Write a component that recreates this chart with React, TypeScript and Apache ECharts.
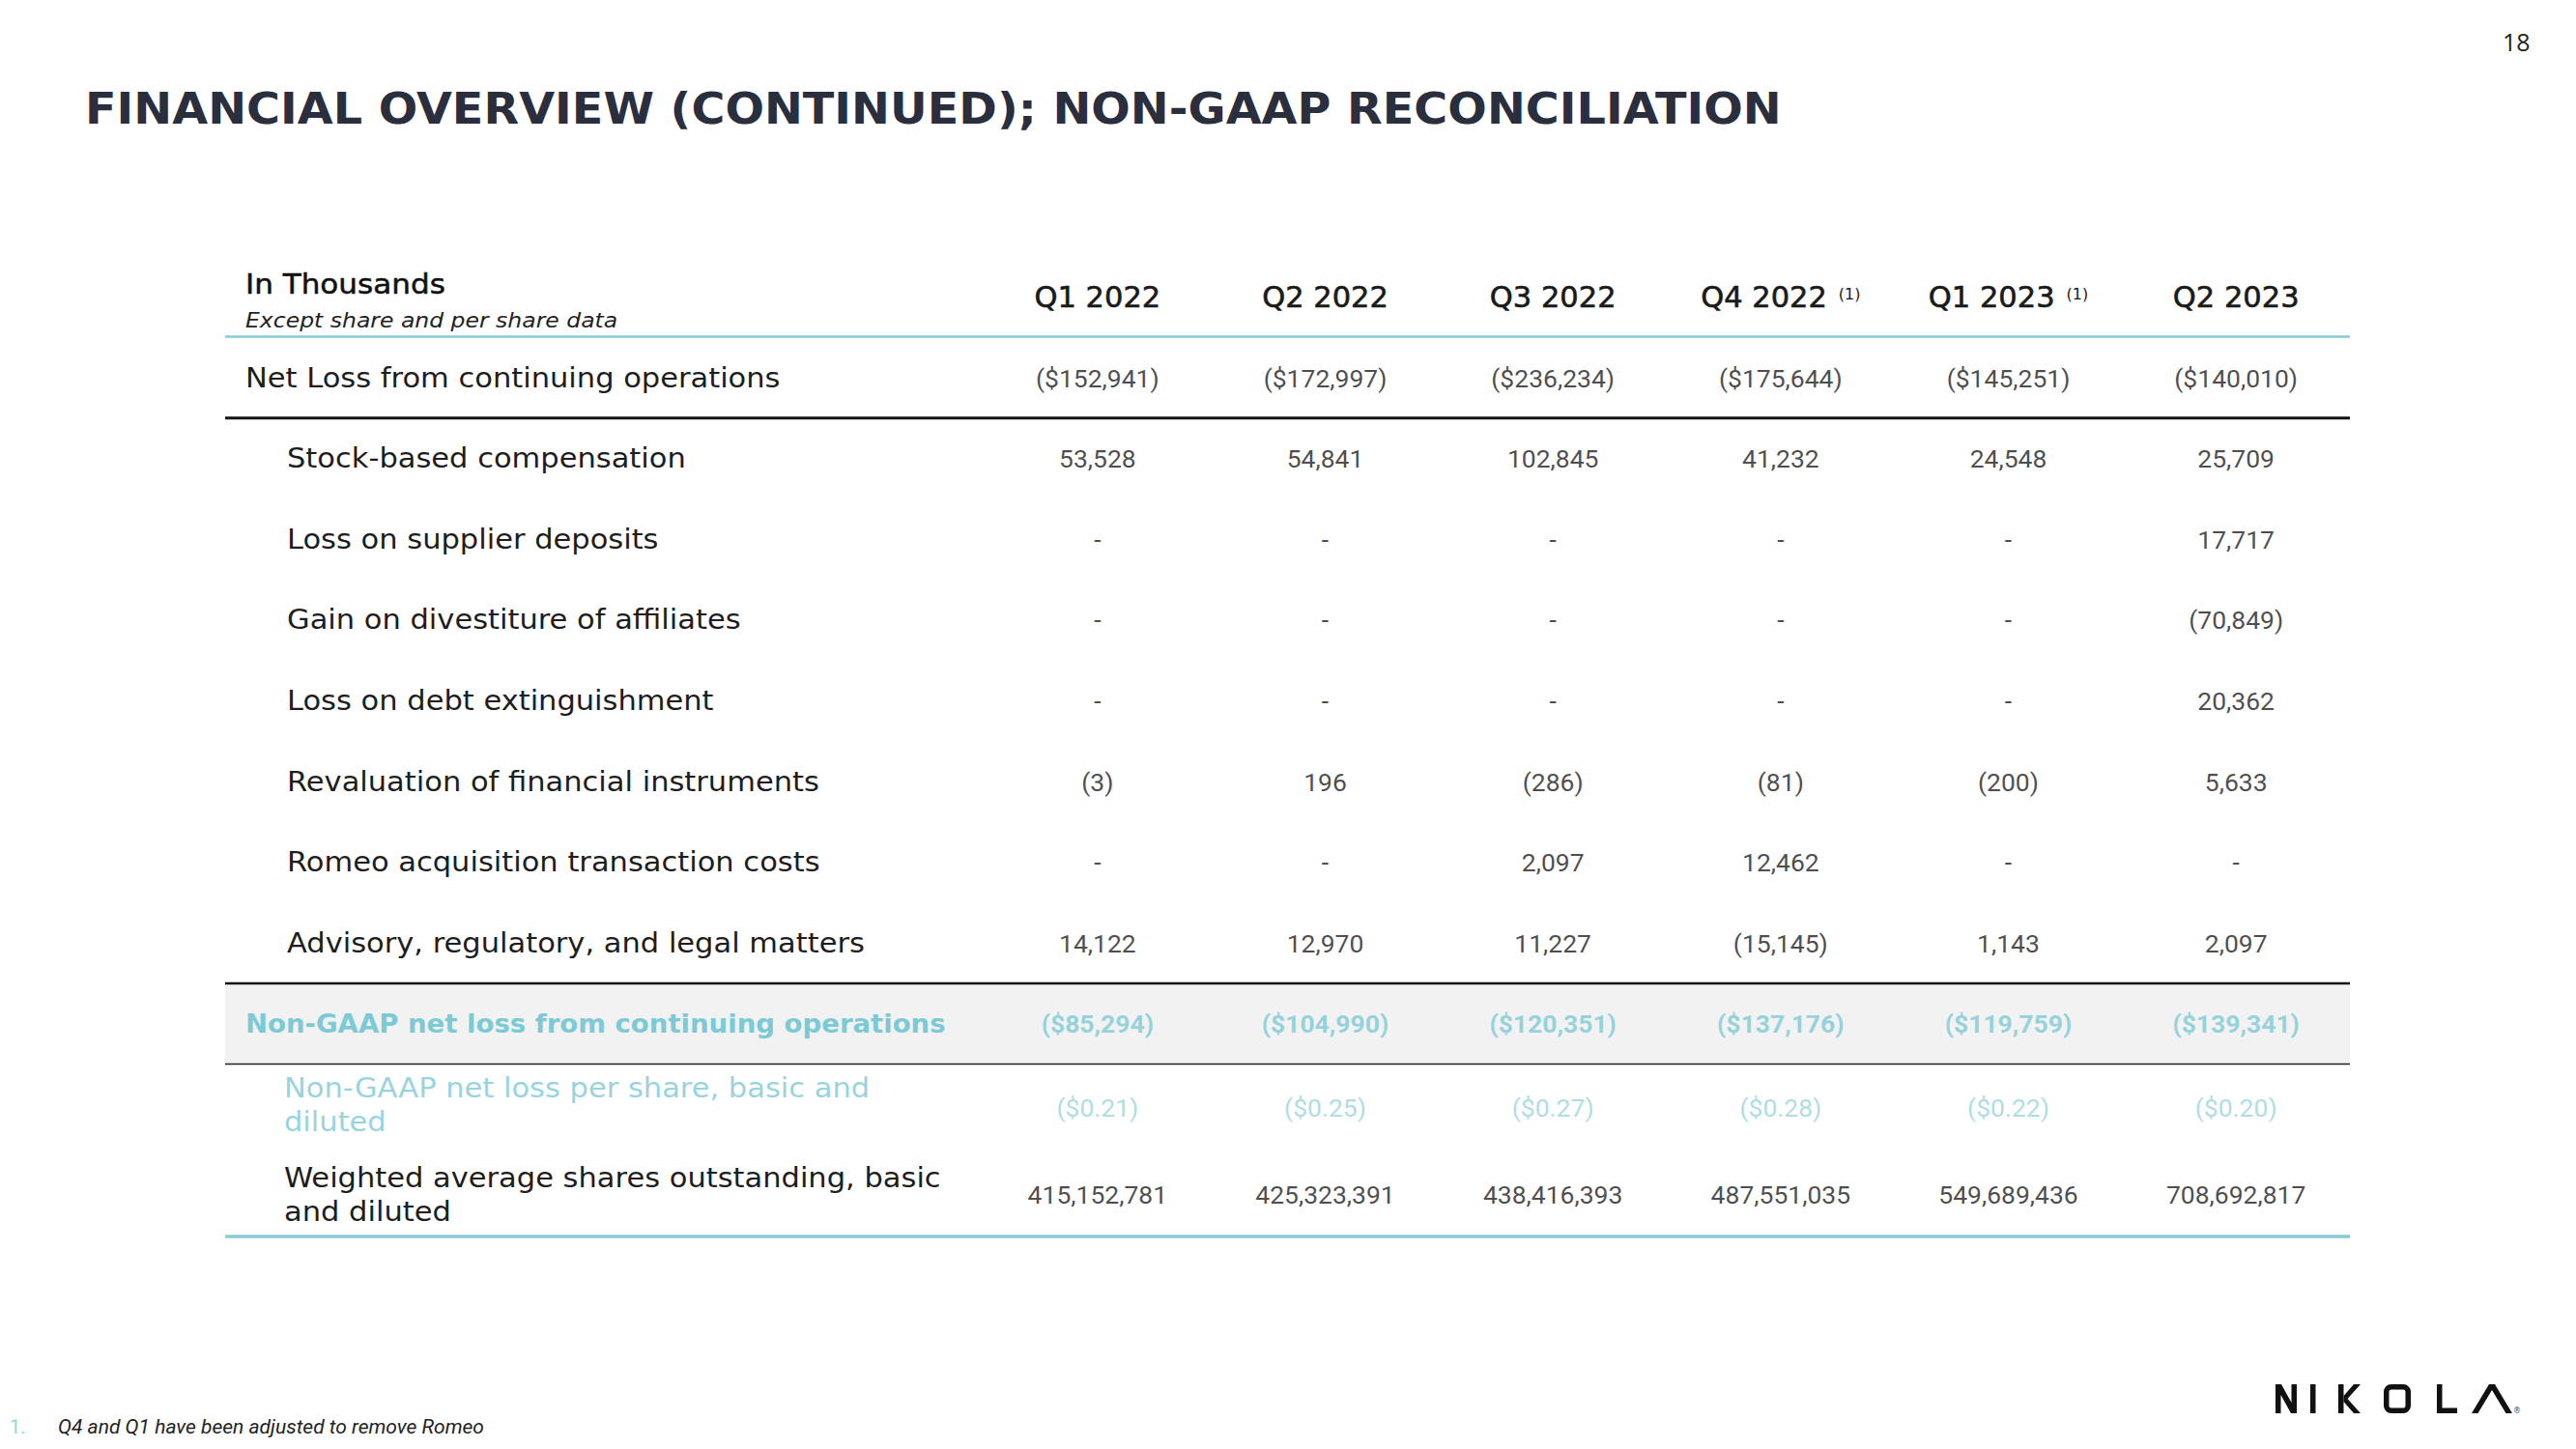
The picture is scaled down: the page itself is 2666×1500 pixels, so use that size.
import React, { useEffect, useRef } from "react";
import * as echarts from "echarts";

// ---------------- DATA ----------------
const quarters = ["Q1 2022", "Q2 2022", "Q3 2022", "Q4 2022", "Q1 2023", "Q2 2023"];
const quarterNotes = ["", "", "", "(1)", "(1)", ""];

const netLoss = [-152941, -172997, -236234, -175644, -145251, -140010];
const stockComp = [53528, 54841, 102845, 41232, 24548, 25709];
const supplierDeposits = [null, null, null, null, null, 17717];
const divestitureGain = [null, null, null, null, null, -70849];
const debtExtinguishment = [null, null, null, null, null, 20362];
const revaluation = [-3, 196, -286, -81, -200, 5633];
const romeoCosts = [null, null, 2097, 12462, null, null];
const advisoryLegal = [14122, 12970, 11227, -15145, 1143, 2097];
const nonGaapNetLoss = [-85294, -104990, -120351, -137176, -119759, -139341];
const nonGaapEps = [-0.21, -0.25, -0.27, -0.28, -0.22, -0.2];
const weightedShares = [415152781, 425323391, 438416393, 487551035, 549689436, 708692817];

const rowLabels = [
  "Net Loss from continuing operations",
  "Stock-based compensation",
  "Loss on supplier deposits",
  "Gain on divestiture of affiliates",
  "Loss on debt extinguishment",
  "Revaluation of financial instruments",
  "Romeo acquisition transaction costs",
  "Advisory, regulatory, and legal matters",
  "Non-GAAP net loss from continuing operations",
  "Non-GAAP net loss per share, basic and\ndiluted",
  "Weighted average shares outstanding, basic\nand diluted",
];
const rowKinds = ["main", "sub", "sub", "sub", "sub", "sub", "sub", "sub", "total", "eps", "shares"];
const rowValues = [
  netLoss,
  stockComp,
  supplierDeposits,
  divestitureGain,
  debtExtinguishment,
  revaluation,
  romeoCosts,
  advisoryLegal,
  nonGaapNetLoss,
  nonGaapEps,
  weightedShares,
];

// ---------------- FORMAT ----------------
function group(n: number): string {
  return String(Math.round(n)).replace(/\B(?=(\d{3})+(?!\d))/g, ",");
}
function fmt(v: number | null, kind: string): string {
  if (v === null || v === undefined) return "-";
  if (kind === "main" || kind === "total") {
    return v < 0 ? `($${group(-v)})` : `$${group(v)}`;
  }
  if (kind === "eps") {
    return v < 0 ? `($${(-v).toFixed(2)})` : `$${v.toFixed(2)}`;
  }
  return v < 0 ? `(${group(-v)})` : group(v);
}

// ---------------- LAYOUT / STYLE ----------------
const LABEL_FONT = "'DejaVu Sans', sans-serif";
const NUM_FONT = "Roboto, sans-serif";
const TEAL = "#86cdd7";
const TEAL_TEXT = "#7ccad6";
const TEAL_LIGHT = "#98d4de";
const INK = "#1d1d1d";

const TABLE_L = 233;
const TABLE_R = 2432;
const GRID_L = 1018;
const GRID_W = 1414;
const GRID_TOP = 349.2;
const ROW_H = 83.6;
const nRows = rowLabels.length;
const rowCenter = (i: number) => GRID_TOP + (i + 0.5) * ROW_H;
const rowEdge = (i: number) => GRID_TOP + i * ROW_H;

function labelX(kind: string) {
  if (kind === "main" || kind === "total") return 254;
  if (kind === "sub") return 297;
  return 294;
}
function labelStyle(kind: string) {
  if (kind === "total") return { fill: TEAL_TEXT, fontWeight: "bold", fontSize: 26.5 };
  if (kind === "eps") return { fill: TEAL_LIGHT, fontWeight: "normal", fontSize: 28 };
  return { fill: INK, fontWeight: "normal", fontSize: 28 };
}
function rowShift(kind: string) {
  if (kind === "eps") return 3;
  if (kind === "shares") return 9;
  return 0;
}

function buildOption() {
  const cells: any[] = [];
  rowValues.forEach((vals, r) => {
    const kind = rowKinds[r];
    vals.forEach((v, c) => {
      cells.push({
        value: [c, r],
        text: fmt(v as number | null, kind),
        label: {
          color: kind === "total" ? TEAL_TEXT : kind === "eps" ? TEAL_LIGHT : INK,
          fontWeight: kind === "total" ? "bold" : "normal",
          offset: [0, rowShift(kind)],
        },
      });
    });
  });

  const graphics: any[] = [];
  const txt = (x: number, y: number, text: string, s: any, sx = 1) => ({
    type: "text",
    x,
    y,
    scaleX: sx,
    style: {
      text,
      fontFamily: LABEL_FONT,
      align: "left",
      verticalAlign: "middle",
      textAlign: "left",
      textVerticalAlign: "middle",
      ...s,
    },
  });
  const hline = (y: number, color: string, w: number) => ({
    type: "line",
    shape: { x1: TABLE_L, y1: y, x2: TABLE_R, y2: y },
    style: { stroke: color, lineWidth: w },
  });

  // title
  graphics.push(
    txt(
      88,
      112,
      "FINANCIAL OVERVIEW (CONTINUED); NON-GAAP RECONCILIATION",
      { fontSize: 45, fontWeight: "bold", fill: "#2a2e3d" },
      1.06
    )
  );
  // page number
  graphics.push(txt(2590, 43, "18", { fontSize: 25, fill: "#222", fontFamily: "'Open Sans', sans-serif" }));

  // header
  graphics.push(
    txt(254, 294, "In Thousands", { fontSize: 28.5, fill: "#111", stroke: "#111", lineWidth: 0.5 }, 1.09)
  );
  graphics.push(
    txt(254, 331, "Except share and per share data", { fontSize: 21, fill: "#222", fontStyle: "italic" }, 1.12)
  );

  // band and rules
  graphics.push({
    type: "rect",
    z: -1,
    shape: { x: TABLE_L, y: rowEdge(8), width: TABLE_R - TABLE_L, height: ROW_H },
    style: { fill: "#f2f2f2" },
  });
  graphics.push(hline(348.5, TEAL, 2.5));
  graphics.push(hline(rowEdge(1), "#111", 3));
  graphics.push(hline(rowEdge(8), "#111", 2.5));
  graphics.push(hline(rowEdge(9), "#222", 1.5));
  graphics.push(hline(1280, TEAL, 3.5));

  // row labels
  rowLabels.forEach((label, i) => {
    const kind = rowKinds[i];
    const y = rowCenter(i) + (kind === "shares" ? 10 : kind === "eps" ? 1 : 0);
    graphics.push(
      txt(labelX(kind), y, label, { ...labelStyle(kind), lineHeight: 35 }, kind === "total" ? 1.04 : 1.09)
    );
  });

  // footnote
  graphics.push(txt(10, 1477, "1.", { fontSize: 20, fill: TEAL_LIGHT, fontFamily: NUM_FONT }));
  graphics.push(
    txt(60, 1477, "Q4 and Q1 have been adjusted to remove Romeo", {
      fontSize: 21,
      fill: "#222",
      fontStyle: "italic",
      fontFamily: NUM_FONT,
    })
  );

  // NIKOLA logo
  const K = "#111";
  graphics.push({
    type: "polygon",
    shape: {
      points: [
        [2355, 1463], [2355, 1433], [2361, 1433], [2371.5, 1452], [2371.5, 1433], [2377, 1433],
        [2377, 1463], [2371, 1463], [2360.5, 1444], [2360.5, 1463],
      ],
    },
    style: { fill: K },
  });
  graphics.push({ type: "rect", shape: { x: 2391, y: 1433, width: 5.5, height: 30 }, style: { fill: K } });
  graphics.push({ type: "rect", shape: { x: 2420, y: 1433, width: 5.5, height: 30 }, style: { fill: K } });
  graphics.push({
    type: "polygon",
    shape: {
      points: [[2425.5, 1445], [2436, 1433], [2443, 1433], [2429.5, 1448], [2443, 1463], [2436, 1463], [2425.5, 1451]],
    },
    style: { fill: K },
  });
  graphics.push({
    type: "rect",
    shape: { x: 2469.75, y: 1435.75, width: 22.5, height: 24.5, r: 5 },
    style: { fill: null, stroke: K, lineWidth: 5.5 },
  });
  graphics.push({
    type: "polygon",
    shape: { points: [[2522, 1433], [2527.5, 1433], [2527.5, 1457.5], [2543, 1457.5], [2543, 1463], [2522, 1463]] },
    style: { fill: K },
  });
  graphics.push({
    type: "polygon",
    shape: {
      points: [[2558, 1463], [2576, 1433], [2582, 1433], [2600, 1463], [2593.5, 1463], [2579, 1439], [2564.5, 1463]],
    },
    style: { fill: K },
  });
  graphics.push(txt(2601, 1460, "®", { fontSize: 8, fill: "#444" }));

  return {
    animation: false,
    backgroundColor: "#ffffff",
    grid: { left: GRID_L, width: GRID_W, top: GRID_TOP, height: ROW_H * nRows },
    xAxis: {
      type: "category",
      position: "top",
      data: quarters,
      axisLine: { show: false },
      axisTick: { show: false },
      splitLine: { show: false },
      axisLabel: {
        margin: 25,
        interval: 0,
        formatter: (v: string, i: number) => (quarterNotes[i] ? `{q|${v}}{s|${quarterNotes[i]}}` : `{q|${v}}`),
        rich: {
          q: {
            fontFamily: LABEL_FONT,
            fontSize: 30.5,
            color: "#1a1a1a",
            textBorderColor: "#1a1a1a",
            textBorderWidth: 0.6,
            lineHeight: 34,
          },
          s: {
            fontFamily: LABEL_FONT,
            fontSize: 16,
            color: "#1a1a1a",
            padding: [0, 0, 6, 12],
          },
        },
      },
    },
    yAxis: {
      type: "category",
      inverse: true,
      data: rowLabels,
      show: false,
    },
    graphic: { elements: graphics },
    series: [
      {
        type: "scatter",
        silent: true,
        symbolSize: 1,
        itemStyle: { color: "rgba(0,0,0,0)" },
        label: {
          show: true,
          position: "inside",
          fontFamily: NUM_FONT,
          fontSize: 26.5,
          formatter: (p: any) => p.data.text,
        },
        emphasis: { disabled: true },
        data: cells,
      },
    ],
  };
}

export default function App() {
  const ref = useRef<HTMLDivElement>(null);
  useEffect(() => {
    const chart = echarts.init(ref.current!, null, { renderer: "svg" });
    chart.setOption(buildOption() as any);
    return () => chart.dispose();
  }, []);
  return (
    <div
      ref={ref}
      style={{ position: "fixed", left: 0, top: 0, width: 2666, height: 1500, background: "#fff" }}
    />
  );
}
